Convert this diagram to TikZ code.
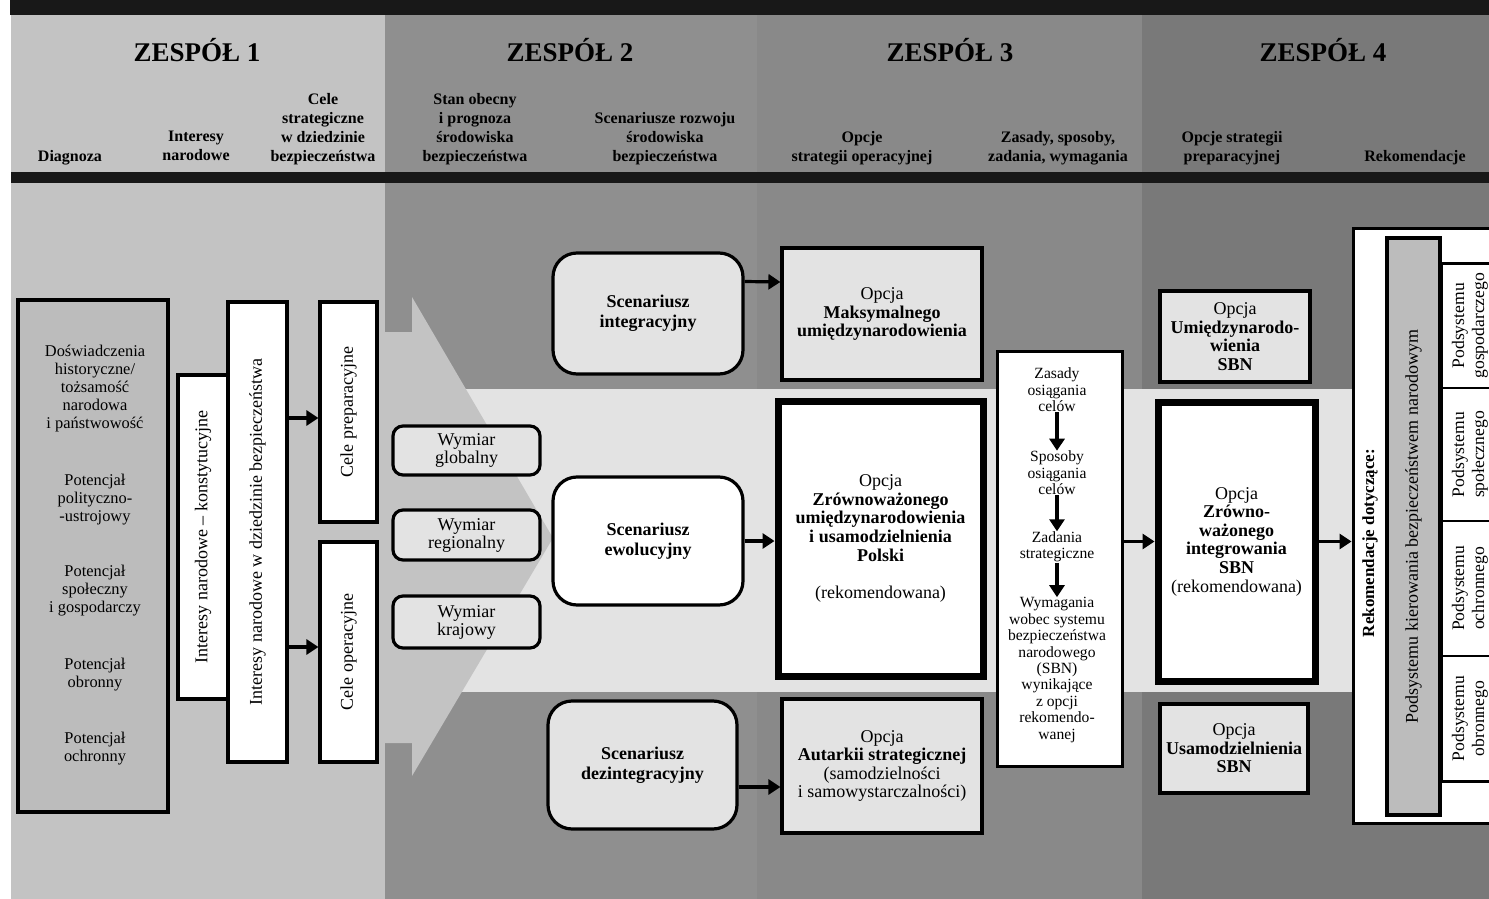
\documentclass[tikz,border=0pt]{standalone}
\usepackage{fontspec}
\setmainfont{Liberation Serif}
\usetikzlibrary{arrows.meta}
\definecolor{ink}{HTML}{000000}
\definecolor{banner}{HTML}{181818}
\definecolor{teamA}{HTML}{C3C3C3}
\definecolor{teamB}{HTML}{8F8F8F}
\definecolor{teamC}{HTML}{898989}
\definecolor{teamD}{HTML}{797979}
\definecolor{lite}{HTML}{E3E3E3}
\definecolor{mid}{HTML}{BCBCBC}
\tikzset{
  box/.style={draw=ink, line width=1.6pt, fill=lite, align=center, inner sep=2pt, font=\fontsize{9}{9.3}\selectfont},
  boxw/.style={box, fill=white},
  wbox/.style={box, rounded corners=5pt, font=\fontsize{9}{9}\selectfont},
  scen/.style={box, rounded corners=12pt, font=\bfseries\fontsize{9}{10}\selectfont},
  main/.style={box, fill=white, line width=3.5pt},
  arr/.style={draw=ink, line width=1.6pt, -{Triangle[length=6pt,width=7.5pt]}},
  team/.style={font=\bfseries\fontsize{13.5}{15}\selectfont},
  hd/.style={font=\bfseries\fontsize{8}{9.5}\selectfont, align=center, anchor=south, inner sep=0pt},
  lab/.style={font=\fontsize{8.2}{9}\selectfont, align=center, inner sep=0pt},
  zlab/.style={font=\fontsize{7.8}{8.2}\selectfont, align=center, inner sep=0pt},
  rot/.style={lab, rotate=90, font=\fontsize{9}{10}\selectfont}
}
\begin{document}
\begin{tikzpicture}[x=0.5pt, y=-0.5pt]
  \useasboundingbox (0,0) rectangle (1489,899);
  \clip (0,0) rectangle (1489,899);
  % tlo
  \fill[banner] (10,0) rectangle (1489,15);
  \fill[teamA] (11,15) rectangle (385,899);
  \fill[teamB] (385,15) rectangle (757,899);
  \fill[teamC] (757,15) rectangle (1142,899);
  \fill[teamD] (1142,15) rectangle (1489,899);
  \fill[banner] (11,172) rectangle (1489,183);
  \fill[lite] (385,389) rectangle (1353,692);
  \fill[teamA] (385,332) -- (412,332) -- (412,297) -- (553,538) -- (412,776) -- (412,743) -- (385,743) -- cycle;

  \node[team] (t1) at (197,50) {ZESPÓŁ 1};
  \node[team] (t2) at (570,50) {ZESPÓŁ 2};
  \node[team] (t3) at (950,50) {ZESPÓŁ 3};
  \node[team] (t4) at (1323,50) {ZESPÓŁ 4};

  \node[hd] (h1) at (70,165) {Diagnoza};
  \node[hd] (h2) at (196,161) {Interesy\\narodowe};
  \node[hd] (h3) at (323,165) {Cele\\strategiczne\\w dziedzinie\\bezpieczeństwa};
  \node[hd] (h4) at (475,165) {Stan obecny\\i prognoza\\środowiska\\bezpieczeństwa};
  \node[hd] (h5) at (665,165) {Scenariusze rozwoju\\środowiska\\bezpieczeństwa};
  \node[hd] (h6) at (862,165) {Opcje\\strategii operacyjnej};
  \node[hd] (h7) at (1058,165) {Zasady, sposoby,\\zadania, wymagania};
  \node[hd] (h8) at (1232,165) {Opcje strategii\\preparacyjnej};
  \node[hd] (h9) at (1415,165) {Rekomendacje};

  % zespol 1
  \node[box, fill=mid, line width=1.8pt, minimum width=75pt, minimum height=256pt] (diag) at (93,556) {};
  \node[lab] (d1) at (95,389) {Doświadczenia\\historyczne/\\tożsamość\\narodowa\\i państwowość};
  \node[lab] (d2) at (95,500) {Potencjał\\polityczno-\\-ustrojowy};
  \node[lab] (d3) at (95,591) {Potencjał\\społeczny\\i gospodarczy};
  \node[lab] (d4) at (95,675) {Potencjał\\obronny};
  \node[lab] (d5) at (95,749) {Potencjał\\ochronny};
  \node[boxw, minimum width=25pt, minimum height=162pt] (ikon) at (203,537) {};
  \node[rot] at (ikon) {Interesy narodowe – konstytucyjne};
  \node[boxw, minimum width=29.5pt, minimum height=230pt] (ibez) at (257.5,532) {};
  \node[rot] at (ibez) {Interesy narodowe w dziedzinie bezpieczeństwa};
  \node[boxw, minimum width=28.5pt, minimum height=110pt] (cprep) at (348.5,412) {};
  \node[rot] at (cprep) {Cele preparacyjne};
  \node[boxw, minimum width=28.5pt, minimum height=110pt] (cop) at (348.5,652) {};
  \node[rot] at (cop) {Cele operacyjne};
  \draw[arr] ([yshift=-3pt]ibez.east |- cprep.west) -- ([yshift=-3pt]cprep.west);
  \draw[arr] ([yshift=2.5pt]ibez.east |- cop.west) -- ([yshift=2.5pt]cop.west);

  % zespol 2
  \node[wbox, minimum width=73.5pt, minimum height=24.5pt] (wglob) at (466.5,450.5) {Wymiar\\globalny};
  \node[wbox, minimum width=73.5pt, minimum height=25pt] (wreg) at (466.5,535) {Wymiar\\regionalny};
  \node[wbox, minimum width=73.5pt, minimum height=26pt] (wkraj) at (466.5,622) {Wymiar\\krajowy};
  \node[scen, minimum width=95pt, minimum height=60.5pt] (sint) at (648,313.5) {Scenariusz\\integracyjny};
  \node[scen, fill=white, minimum width=95pt, minimum height=64pt] (sewo) at (648,541) {Scenariusz\\ewolucyjny};
  \node[scen, minimum width=94.5pt, minimum height=64pt] (sdez) at (642.5,765) {Scenariusz\\dezintegracyjny};

  % zespol 3
  \node[box, minimum width=100pt, minimum height=66pt] (omax) at (882,314)
    {Opcja\\\textbf{Maksymalnego}\\\textbf{umiędzynarodowienia}};
  \node[main, minimum width=102.5pt, minimum height=137.5pt] (ozr) at (880.5,538.5)
    {Opcja\\\textbf{Zrównoważonego}\\\textbf{umiędzynarodowienia}\\\textbf{i usamodzielnienia}\\\textbf{Polski}\\[9.3pt](rekomendowana)};
  \node[box, minimum width=100pt, minimum height=67pt] (oaut) at (882,766)
    {Opcja\\\textbf{Autarkii strategicznej}\\(samodzielności\\i samowystarczalności)};
  \node[boxw, line width=1.5pt, minimum width=62.5pt, minimum height=207.5pt] (zas) at (1059.5,558.5) {};
  \node[zlab] (z1) at (1057,390) {Zasady\\osiągania\\celów};
  \node[zlab] (z2) at (1057,473) {Sposoby\\osiągania\\celów};
  \node[zlab] (z3) at (1057,547) {Zadania\\strategiczne};
  \node[zlab] (z4) at (1057,670) {Wymagania\\wobec systemu\\bezpieczeństwa\\narodowego\\(SBN)\\wynikające\\z opcji\\rekomendo-\\wanej};
  \draw[arr] (z1) -- (z2);
  \draw[arr] (z2) -- (z3);
  \draw[arr] (z3) -- (z4);
  \draw[arr] ([yshift=16pt]sint.east) -- ([yshift=16pt]omax.west);
  \draw[arr] (sewo.east) -- (sewo.east -| ozr.west);
  \draw[arr] ([yshift=-11pt]sdez.east) -- ([yshift=-11pt]sdez.east -| oaut.west);

  % zespol 4
  \node[box, minimum width=75pt, minimum height=45.5pt] (oumi) at (1235,336.5)
    {Opcja\\\textbf{Umiędzynarodo-}\\\textbf{wienia}\\\textbf{SBN}};
  \node[main, minimum width=78.5pt, minimum height=139.5pt] (ozi) at (1236.5,541.5)
    {Opcja\\\textbf{Zrówno-}\\\textbf{ważonego}\\\textbf{integrowania}\\\textbf{SBN}\\(rekomendowana)};
  \node[box, minimum width=74pt, minimum height=44.5pt] (ousa) at (1234,748.5)
    {Opcja\\\textbf{Usamodzielnienia}\\\textbf{SBN}};
  \draw[arr] (zas.east |- ozi) -- (ozi);
  \node[boxw, line width=1.5pt, minimum width=73.5pt, minimum height=297.5pt] (rek) at (1426.5,525.5) {};
  \draw[arr] (ozi.east) -- (ozi.east -| rek.west);
  \node[rot, font=\bfseries\fontsize{8.5}{10}\selectfont] (rekt) at (1370,543) {Rekomendacje dotyczące:};
  \node[box, fill=mid, minimum width=26.5pt, minimum height=288.5pt] (pkbn) at (1413.5,526.5) {};
  \node[rot] at (pkbn) {Podsystemu kierowania bezpieczeństwem narodowym};
  \node[boxw, line width=1.2pt, minimum width=28pt, minimum height=62.25pt] (p1) at (1470,325.7) {};
  \node[boxw, line width=1.2pt, minimum width=28pt, minimum height=66.5pt] (p2) at (1470,454.5) {};
  \node[boxw, line width=1.2pt, minimum width=28pt, minimum height=67.3pt] (p3) at (1470,588.4) {};
  \node[boxw, line width=1.2pt, minimum width=28pt, minimum height=62.9pt] (p4) at (1470,718.6) {};
  \node[rot, font=\fontsize{8.8}{10}\selectfont] at (p1) {Podsystemu\\gospodarczego};
  \node[rot, font=\fontsize{8.8}{10}\selectfont] at (p2) {Podsystemu\\społecznego};
  \node[rot, font=\fontsize{8.8}{10}\selectfont] at (p3) {Podsystemu\\ochronnego};
  \node[rot, font=\fontsize{8.8}{10}\selectfont] at (p4) {Podsystemu\\obronnego};
\end{tikzpicture}
\end{document}
